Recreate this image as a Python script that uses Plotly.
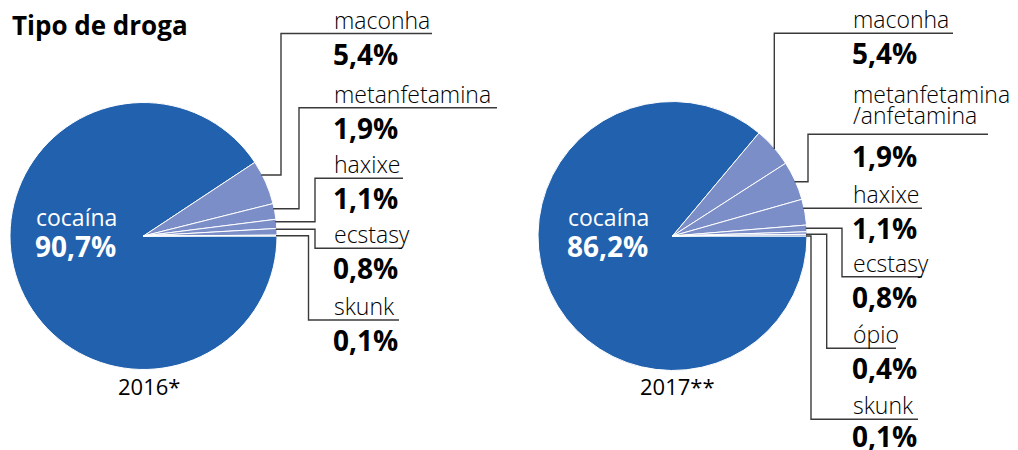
import plotly.graph_objects as go
import math

# ---------------- data ----------------
categories_2016 = ["cocaína", "maconha", "metanfetamina", "haxixe", "ecstasy", "skunk"]
values_2016 = [90.7, 5.4, 1.9, 1.1, 0.8, 0.1]
labels_2016 = ["90,7%", "5,4%", "1,9%", "1,1%", "0,8%", "0,1%"]

categories_2017 = ["cocaína", "maconha", "metanfetamina/anfetamina", "haxixe", "ecstasy", "ópio", "skunk"]
labels_2017 = ["86,2%", "5,4%", "1,9%", "1,1%", "0,8%", "0,4%", "0,1%"]
# slice sizes as drawn in the picture (they differ from the printed labels)
values_2017 = [86.2, 4.8, 4.7, 3.1, 0.8, 0.3, 0.2]

years = ["2016*", "2017**"]
title = "Tipo de droga"

# ---------------- style ----------------
W, H = 1018, 450
BLUE = "#2261ad"
LIGHT = "#7b8ec7"
LINE = "#3a3a3a"
FONT = "Open Sans"

def colors(n):
    return [BLUE] + [LIGHT] * (n - 1)

fig = go.Figure()

pies = [
    dict(cx=143.5, cy=236, r=133.5, vals=values_2016, cats=categories_2016),
    dict(cx=672.5, cy=236, r=134.5, vals=values_2017, cats=categories_2017),
]
for p in pies:
    fig.add_trace(go.Pie(
        labels=p["cats"], values=p["vals"], sort=False, direction="clockwise",
        rotation=90, marker=dict(colors=colors(len(p["vals"])), line=dict(color="white", width=1)),
        textinfo="none", hoverinfo="label+percent", showlegend=False,
        domain=dict(x=[(p["cx"] - p["r"]) / W, (p["cx"] + p["r"]) / W],
                    y=[1 - (p["cy"] + p["r"]) / H, 1 - (p["cy"] - p["r"]) / H]),
    ))

def rim_x(p, y):
    return p["cx"] + math.sqrt(max(p["r"] ** 2 - (y - p["cy"]) ** 2, 0)) - 1

def rim_y(p, x):
    return p["cy"] - math.sqrt(max(p["r"] ** 2 - (x - p["cx"]) ** 2, 0)) + 1

# leader layout (pixel positions): start_y, elbow_x, line_y, end_x
left_leaders = [
    (175.0, 281.0, 33.5, 432.0),
    (208.7, 299.0, 107.7, 497.0),
    (221.7, 315.0, 178.3, 403.0),
    (229.3, 315.0, 248.3, 402.0),
    (235.7, 308.5, 320.0, 399.0),
]
right_leaders = [
    (None, 774.3, 33.3, 953.0),
    (181.7, 808.0, 134.3, 988.0),
    (208.3, None, 208.3, 922.0),
    (228.3, 842.0, 276.7, 922.0),
    (234.3, 826.7, 348.3, 896.0),
    (236.0, 811.0, 419.3, 918.0),
]

shapes = []
annotations = []

def add_path(pts):
    d = "M " + " L ".join(f"{x:.1f},{y:.1f}" for x, y in pts)
    shapes.append(dict(type="path", xref="x", yref="y", path=d,
                       line=dict(color=LINE, width=1.4)))

def add_text(x, y, text, size, weight, anchor_y, color="black", xanchor="left"):
    annotations.append(dict(x=x, y=y, xref="x", yref="y", text=text, showarrow=False,
                            xanchor=xanchor, yanchor=anchor_y,
                            font=dict(family=FONT, size=size, color=color, weight=weight)))

NAME_SIZE = 23
NUM_SIZE = 28

def leaders(p, layout, names, nums, text_x):
    for (sy, ex, ly, endx), name, num in zip(layout, names, nums):
        if sy is None:
            pts = [(ex, rim_y(p, ex)), (ex, ly), (endx, ly)]
        elif ex is None:
            pts = [(rim_x(p, sy), sy), (endx, ly)]
        else:
            pts = [(rim_x(p, sy), sy), (ex, sy), (ex, ly), (endx, ly)]
        add_path(pts)
        name_lines = name.split("/")
        if len(name_lines) == 2:
            add_text(text_x, ly - 40, name_lines[0], NAME_SIZE, 300, "middle")
            add_text(text_x, ly - 19, "/" + name_lines[1], NAME_SIZE, 300, "middle")
            num_y = ly + 22
        else:
            add_text(text_x, ly - 14, name, NAME_SIZE, 300, "middle")
            num_y = ly + 20
        add_text(text_x - 1, min(num_y, 436), num, NUM_SIZE, 700, "middle")

leaders(pies[0], left_leaders, categories_2016[1:], labels_2016[1:], 332)
leaders(pies[1], right_leaders, categories_2017[1:], labels_2017[1:], 851)

# cocaína labels inside the pies
for p, cat, num, tx in [(pies[0], categories_2016[0], labels_2016[0], 34),
                        (pies[1], categories_2017[0], labels_2017[0], 566)]:
    add_text(tx, 217, cat, NAME_SIZE, 400, "middle", color="white")
    add_text(tx - 1, 246, num, NUM_SIZE, 700, "middle", color="white")

# year labels
for p, yr in zip(pies, years):
    add_text(p["cx"] + 5, 386, yr, 22, 400, "middle", xanchor="center")

# title
add_text(10, 25, title, 26, 700, "middle")

fig.update_layout(
    width=W, height=H, margin=dict(l=0, r=0, t=0, b=0),
    paper_bgcolor="white", plot_bgcolor="rgba(0,0,0,0)",
    xaxis=dict(range=[0, W], visible=False, domain=[0, 1], fixedrange=True),
    yaxis=dict(range=[H, 0], visible=False, domain=[0, 1], fixedrange=True),
    shapes=shapes, annotations=annotations, showlegend=False,
)

fig.write_html("out.html")
